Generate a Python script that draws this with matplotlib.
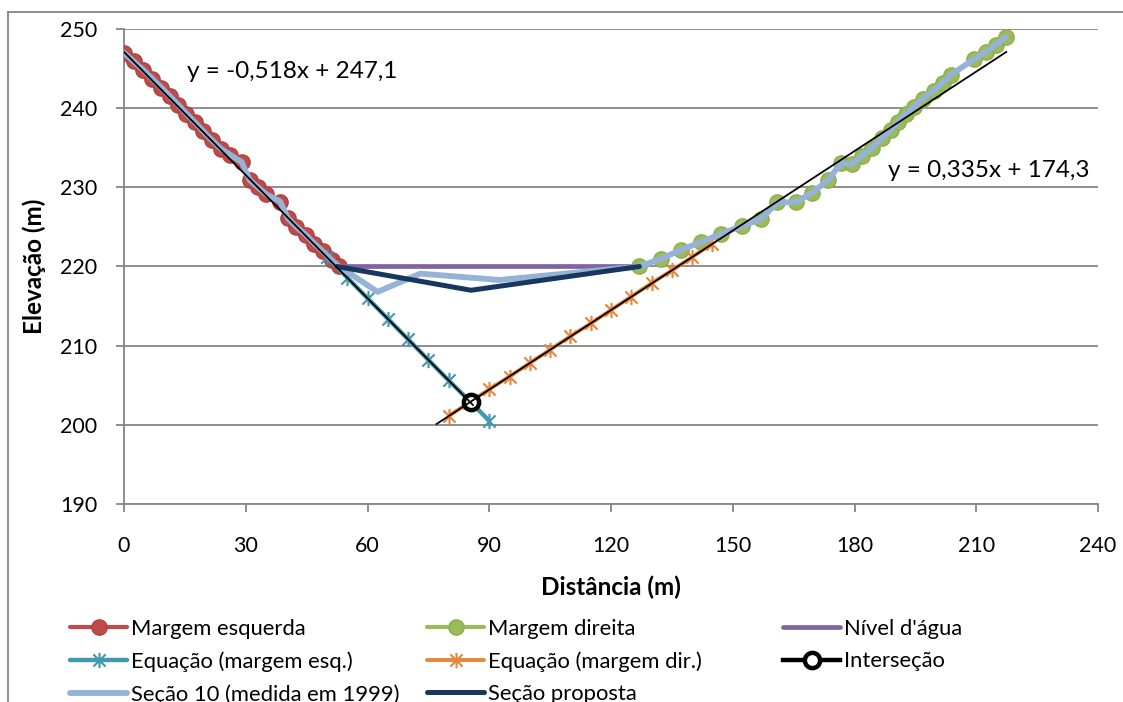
import matplotlib
matplotlib.use('Agg')
import matplotlib.pyplot as plt
from matplotlib.path import Path
from matplotlib.lines import Line2D

plt.rcParams['font.family'] = ['Lato', 'DejaVu Sans']

# ---------------- data ----------------
left_x = [0, 2.4, 4.8, 7.0, 9.2, 11.3, 13.4, 15.4, 17.5, 19.5, 21.6, 23.8, 26.2, 29.0,
          31.0, 33.0, 35.1, 38.5, 40.4, 42.5, 44.8, 46.9, 49.0, 51.2, 53.0]
left_y = [247, 245.9, 244.8, 243.7, 242.6, 241.5, 240.4, 239.3, 238.2, 237.1, 236, 234.9,
          234.1, 233.2, 230.9, 230.0, 229.1, 228.2, 226.1, 225.0, 224.0, 222.9, 221.9, 220.8, 220]

right_x = [127, 132.4, 137.3, 142.2, 147.1, 152.2, 157, 161, 165.5, 169.5, 173.5, 176.7,
           179.3, 181.8, 184.3, 186.8, 189, 190.8, 192.7, 194.7, 196.8, 199.5, 201.7, 203.7,
           209.5, 212.3, 214.8, 217.3]
right_y = [220, 221, 222.1, 223.1, 224.1, 225.1, 226, 228.1, 228.1, 229.3, 230.9, 233.1,
           232.9, 234, 235, 236.2, 237.3, 238.3, 239.3, 240.2, 241.2, 242.2, 243.2, 244.2,
           246.2, 247.1, 248, 249]

water_x = [52.5, 127]
water_y = [220, 220]

eq_left_x = [50, 55, 60, 65, 70, 75, 80, 85, 90]
eq_left_y = [221.2, 218.6, 216.0, 213.4, 210.8, 208.2, 205.6, 203.1, 200.5]

eq_right_x = [80, 85, 90, 95, 100, 105, 110, 115, 120, 125, 130, 135, 140, 145]
eq_right_y = [201.1, 202.8, 204.5, 206.1, 207.8, 209.5, 211.2, 212.8, 214.5, 216.2,
              217.9, 219.5, 221.2, 222.9]

inter_x = [85.4]
inter_y = [202.9]

mid_1999_x = [62.5, 73, 92.5]
mid_1999_y = [216.8, 219.1, 218.3]
sec1999_x = left_x + mid_1999_x + right_x
sec1999_y = left_y + mid_1999_y + right_y

prop_x = [52.5, 85.5, 127]
prop_y = [220, 217.0, 220]

trend_left_x = [0, 86]
trend_left_y = [247.1, 202.5]
trend_right_x = [77, 217.4]
trend_right_y = [200.1, 247.1]

eq_left_label = "y = -0,518x + 247,1"
eq_right_label = "y = 0,335x + 174,3"

x_ticks = [0, 30, 60, 90, 120, 150, 180, 210, 240]
y_ticks = [190, 200, 210, 220, 230, 240, 250]

# ---------------- style ----------------
C_RED = '#BE4B48'
C_GREEN = '#9BBB59'
C_PURPLE = '#8064A2'
C_TEAL = '#4198AF'
C_ORANGE = '#E8853A'
C_LBLUE = '#95B3D7'
C_NAVY = '#17375E'
GRID = '#868686'

star = Path([(0, -1), (0, 1), (-0.8, -0.8), (0.8, 0.8), (-0.8, 0.8), (0.8, -0.8)],
            [Path.MOVETO, Path.LINETO, Path.MOVETO, Path.LINETO, Path.MOVETO, Path.LINETO])

fig = plt.figure(figsize=(11.23, 7.02), dpi=100)
ax = fig.add_axes([124 / 1123, 1 - 504 / 702, (1098 - 124) / 1123, (504 - 29) / 702])

lk = dict(solid_capstyle='round', solid_joinstyle='round')

h1, = ax.plot(left_x, left_y, color=C_RED, lw=3, marker='o', ms=11, mfc=C_RED, mec='#B0413E', mew=1, zorder=3, **lk)
h2, = ax.plot(right_x, right_y, color=C_GREEN, lw=3, marker='o', ms=11, mfc=C_GREEN, mec='#8DAE4C', mew=1, zorder=4, **lk)
h3, = ax.plot(water_x, water_y, color=C_PURPLE, lw=3.4, zorder=5, **lk)
h4, = ax.plot(eq_left_x, eq_left_y, color=C_TEAL, lw=3.2, marker=star, ms=11, mec=C_TEAL, mew=1.5, zorder=6, **lk)
h5, = ax.plot(eq_right_x, eq_right_y, color=C_ORANGE, lw=2.8, marker=star, ms=11, mec=C_ORANGE, mew=1.5, zorder=7, **lk)
h6, = ax.plot(inter_x, inter_y, color='black', lw=3.2, marker='o', ms=11, mfc='white', mec='black', mew=3.2, zorder=8)
h7, = ax.plot(sec1999_x, sec1999_y, color=C_LBLUE, lw=4.2, zorder=9, **lk)
h8, = ax.plot(prop_x, prop_y, color=C_NAVY, lw=3.6, zorder=10, **lk)

ax.plot(trend_left_x, trend_left_y, color='black', lw=1.3, zorder=11)
ax.plot(trend_right_x, trend_right_y, color='black', lw=1.3, zorder=11)

ax.text(15.5, 244.6, eq_left_label, fontsize=17.5, va='center', ha='left', zorder=12)
ax.text(188.3, 232.1, eq_right_label, fontsize=17.5, va='center', ha='left', zorder=12)

ax.set_xlim(0, 240)
ax.set_ylim(190, 250)
ax.set_xticks(x_ticks)
ax.set_yticks(y_ticks)
ax.yaxis.grid(True, color=GRID, lw=1.3)
ax.set_axisbelow(True)
for s in ['top', 'right']:
    ax.spines[s].set_visible(False)
for s in ['left', 'bottom']:
    ax.spines[s].set_color(GRID)
    ax.spines[s].set_linewidth(1.3)
ax.tick_params(axis='both', length=6, width=1.3, color=GRID, labelsize=15.5)
ax.tick_params(axis='y', pad=13)
ax.tick_params(axis='x', pad=17)

ax.set_xlabel('Distância (m)', fontsize=17.5, fontweight='bold', labelpad=14)
ax.set_ylabel('Elevação (m)', fontsize=17.5, fontweight='bold', labelpad=10)

# border of chart area
fig.add_artist(Line2D([8 / 1123, 8 / 1123], [0, 1 - 12 / 702], color=GRID, lw=1.3))
fig.add_artist(Line2D([8 / 1123, 1], [1 - 12 / 702, 1 - 12 / 702], color=GRID, lw=1.3))

cols = [([h1, h4, h7], ['Margem esquerda', 'Equação (margem esq.)', 'Seção 10 (medida em 1999)'], 70),
        ([h2, h5, h8], ['Margem direita', 'Equação (margem dir.)', 'Seção proposta'], 427),
        ([h3, h6], ["Nível d'água", 'Interseção'], 783)]
for hs, labs, xp in cols:
    fig.legend(hs, labs, loc='upper left', bbox_to_anchor=(xp / 1123, 1 - 619 / 702),
               frameon=False, fontsize=15.8, borderpad=0, borderaxespad=0,
               handlelength=2.6, handletextpad=0.2, labelspacing=0.56, numpoints=1)

fig.savefig('out.png', dpi=100)
